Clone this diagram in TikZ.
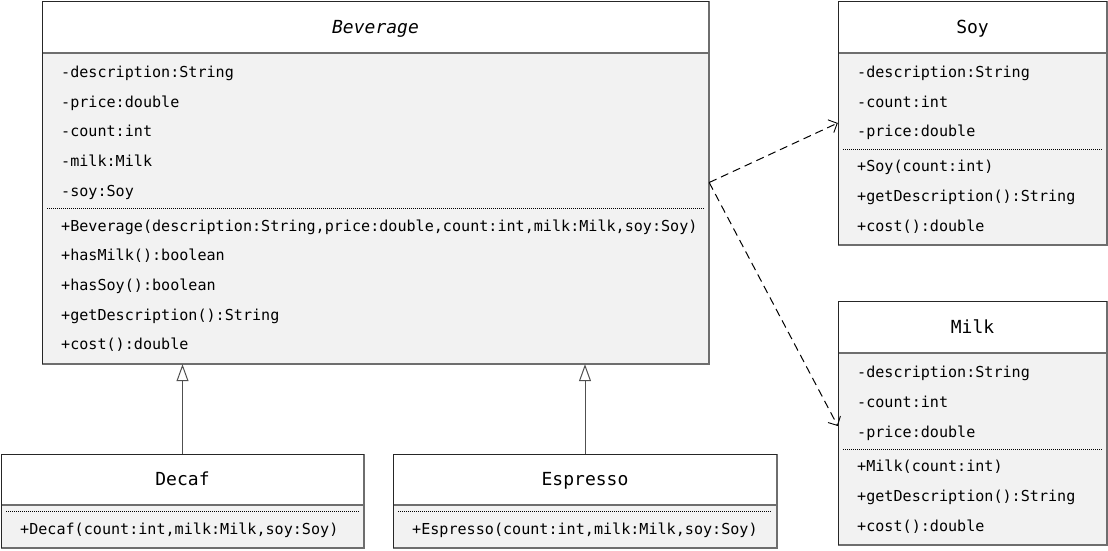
\documentclass[tikz,border=0pt]{standalone}
\usepackage{fontspec}
\setmonofont{DejaVu Sans Mono}
\usetikzlibrary{arrows.meta}
\definecolor{boxfill}{HTML}{F2F2F2}
\definecolor{edgegray}{HTML}{6E6E6E}
\definecolor{linkgray}{HTML}{505050}
\tikzset{
  member/.style={anchor=west, inner sep=0pt, yshift=-3pt, font=\ttfamily\fontsize{15.1}{17}\selectfont, text height=0.75em, text depth=0.25em},
  ctitle/.style={inner sep=0pt, yshift=-4pt, font=\ttfamily\fontsize{18}{20}\selectfont, text height=0.75em, text depth=0.25em},
  darkedge/.style={draw=black!85, line width=1pt},
  lightedge/.style={draw=edgegray, line width=1.6pt},
  titleline/.style={draw=edgegray, line width=1.6pt},
  sepline/.style={draw=black, line width=0.7pt, dash pattern=on 1pt off 1pt},
  inherit/.style={draw=linkgray, line width=1pt, -{Triangle[open, length=17pt, width=12pt, fill=white]}},
  depend/.style={draw=black, line width=1pt, dash pattern=on 8pt off 5pt, -{Straight Barb[length=7pt, width=14pt, line width=0.9pt]}}
}
% name, x1, y1, x2, y2, y of title line
\newcommand\classbox[6]{%
  \fill[boxfill] (#2,#6) rectangle (#4,#5);
  \fill[white] (#2,#3) rectangle (#4,#6);
  \draw[titleline] (#2,#6) -- (#4,#6);
  \draw[lightedge] (#4,#3) -- (#4,#5) -- (#2,#5);
  \draw[darkedge] (#2,#5) -- (#2,#3) -- (#4,#3);
  \node[inner sep=0pt, minimum width={(#4-#2)*1pt}, minimum height={(#5-#3)*1pt}] (#1) at ({(#2+#4)/2},{(#3+#5)/2}) {};
}
\begin{document}
\begin{tikzpicture}[x=1pt, y=-1pt]
\useasboundingbox[fill=white] (0,0) rectangle (1108,550);

% Beverage
\classbox{bev}{42}{1}{709}{364}{53}
\node[ctitle] (bevt) at (375.5,27) {\itshape Beverage};
\node[member] (b1) at (61,72) {-description:String};
\node[member] (b2) at (61,102) {-price:double};
\node[member] (b3) at (61,131) {-count:int};
\node[member] (b4) at (61,161) {-milk:Milk};
\node[member] (b5) at (61,191) {-soy:Soy};
\draw[sepline] (47,208) -- (704,208);
\node[member] (b6) at (61,226) {+Beverage(description:String,price:double,count:int,milk:Milk,soy:Soy)};
\node[member] (b7) at (61,255) {+hasMilk():boolean};
\node[member] (b8) at (61,285) {+hasSoy():boolean};
\node[member] (b9) at (61,315) {+getDescription():String};
\node[member] (b10) at (61,344) {+cost():double};

% Soy
\classbox{soy}{838}{1}{1107}{245}{53}
\node[ctitle] (soyt) at (972.5,27) {Soy};
\node[member] (s1) at (857,72) {-description:String};
\node[member] (s2) at (857,102) {-count:int};
\node[member] (s3) at (857,131) {-price:double};
\draw[sepline] (843,149) -- (1102,149);
\node[member] (s4) at (857,166) {+Soy(count:int)};
\node[member] (s5) at (857,196) {+getDescription():String};
\node[member] (s6) at (857,226) {+cost():double};

% Milk
\classbox{milk}{838}{301}{1107}{545}{353}
\node[ctitle] (milkt) at (972.5,327) {Milk};
\node[member] (m1) at (857,372) {-description:String};
\node[member] (m2) at (857,402) {-count:int};
\node[member] (m3) at (857,432) {-price:double};
\draw[sepline] (843,449) -- (1102,449);
\node[member] (m4) at (857,466) {+Milk(count:int)};
\node[member] (m5) at (857,496) {+getDescription():String};
\node[member] (m6) at (857,526) {+cost():double};

% Decaf
\classbox{decaf}{1}{454}{364}{548}{505}
\node[ctitle] (decaft) at (182.5,479) {Decaf};
\draw[sepline] (6,511) -- (359,511);
\node[member] (d1) at (20,529) {+Decaf(count:int,milk:Milk,soy:Soy)};

% Espresso
\classbox{esp}{393}{454}{777}{548}{505}
\node[ctitle] (espt) at (585,479) {Espresso};
\draw[sepline] (398,511) -- (772,511);
\node[member] (e1) at (412,529) {+Espresso(count:int,milk:Milk,soy:Soy)};

% connectors
\draw[inherit] (decaf.north) -- (decaf.north |- bev.south);
\draw[inherit] (esp.north) -- (esp.north |- bev.south);
\draw[depend] (bev.east) -- (soy.west);
\draw[depend] (bev.east) -- ([yshift=-3pt]milk.west);
\end{tikzpicture}
\end{document}
